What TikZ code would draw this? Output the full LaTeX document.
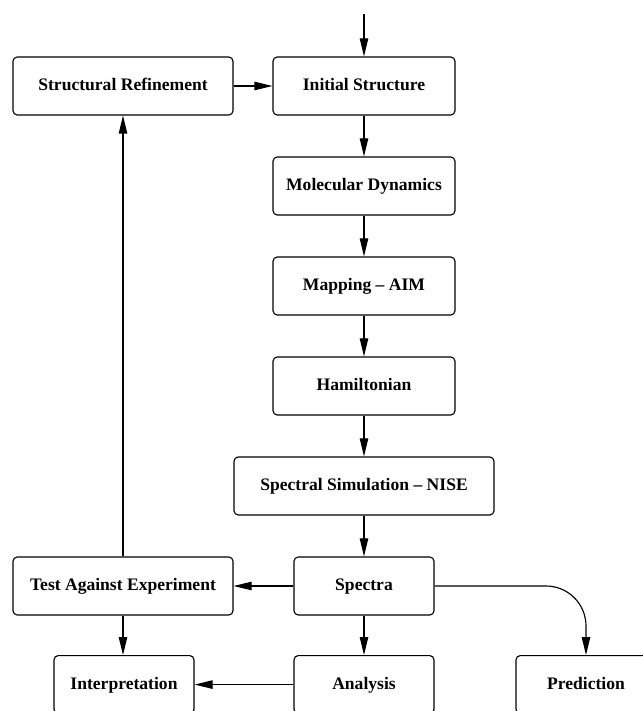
\documentclass[tikz,border=0pt]{standalone}
\usepackage{fontspec}
\setmainfont{Liberation Serif}
\usetikzlibrary{arrows.meta}
\tikzset{
	stepbox/.style={
			draw, line width=0.8pt, rounded corners=3pt,
			minimum height=1.45cm, align=center,
			text height=0.88em, text depth=0.2em,
			font=\fontsize{12.5}{15}\selectfont\bfseries
		},
	arr/.style={-{Triangle[length=4.5mm,width=2.1mm]}, line width=0.8pt}
}

\begin{document}
\begin{tikzpicture}
        \useasboundingbox (0, 0) rectangle (16.075, 17.775);
        \coordinate (start) at (9.1, 17.43);
        \node [stepbox, minimum width=5.5cm] (refine) at (3.075, 15.625) {Structural Refinement};
        \node [stepbox, minimum width=4.55cm] (init) at (9.1, 15.625) {Initial Structure};
        \node [stepbox, minimum width=4.55cm] (md) at (9.1, 13.125) {Molecular Dynamics};
        \node [stepbox, minimum width=4.55cm] (map) at (9.1, 10.625) {Mapping -- AIM};
        \node [stepbox, minimum width=4.55cm] (ham) at (9.1, 8.125) {Hamiltonian};
        \node [stepbox, minimum width=6.5cm] (nise) at (9.1, 5.625) {Spectral Simulation -- NISE};
        \node [stepbox, minimum width=3.5cm] (spectra) at (9.1, 3.125) {Spectra};
        \node [stepbox, minimum width=5.5cm] (test) at (3.075, 3.125) {Test Against Experiment};
        \node [stepbox, minimum width=3.5cm] (interp) at (3.1, 0.66) {Interpretation};
        \node [stepbox, minimum width=3.5cm] (analysis) at (9.1, 0.66) {Analysis};
        \node [stepbox, minimum width=3.5cm] (pred) at (14.65, 0.66) {Prediction};
        \draw [arr] (start) -- (init);
        \draw [arr] (refine) -- (init);
        \draw [arr] (init) -- (md);
        \draw [arr] (md) -- (map);
        \draw [arr] (map) -- (ham);
        \draw [arr] (ham) -- (nise);
        \draw [arr] (nise) -- (spectra);
        \draw [arr] (spectra) -- (test);
        \draw [arr] (test) -- (refine);
        \draw [arr] (test) -- (test |- interp.north);
        \draw [arr] (spectra) -- (analysis);
        \draw [arr] (analysis) -- (interp);
        \draw [arr, rounded corners=1cm] (spectra.east) -| (pred.north);
    \end{tikzpicture}
\end{document}
